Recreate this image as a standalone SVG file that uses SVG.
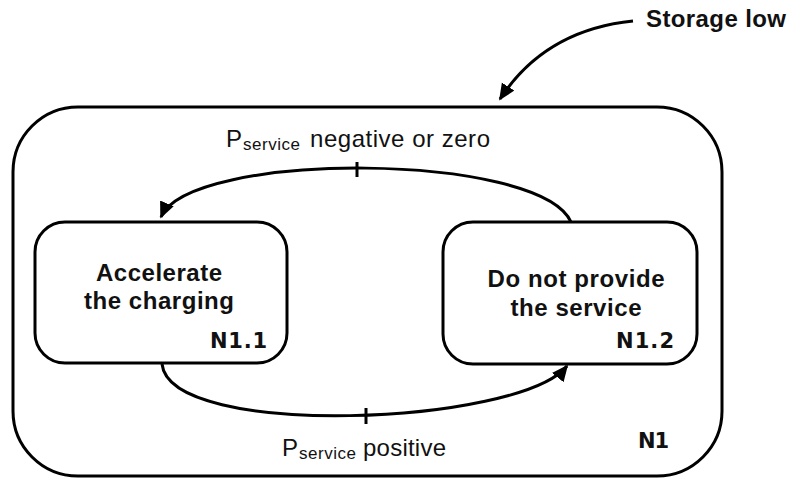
<svg xmlns="http://www.w3.org/2000/svg" width="791" height="479" viewBox="0 0 791 479">
<defs>
<marker id="ah" viewBox="0 0 10 10" refX="9" refY="5" markerWidth="5.5" markerHeight="5.5" orient="auto" markerUnits="strokeWidth">
<path d="M0,0.5 L10,5 L0,9.5 z" fill="#000"/>
</marker>
<style>
.box{fill:#fff;stroke:#000;stroke-width:3}
.edge{fill:none;stroke:#000;stroke-width:3}
.title{font-family:"Liberation Sans",Arial,sans-serif;font-weight:bold;font-size:24px;fill:#111}
.id{font-family:"DejaVu Sans",Verdana,sans-serif;font-weight:bold;font-size:21px;fill:#111}
.lab{font-family:"Liberation Sans",Arial,sans-serif;font-size:24px;fill:#111}
.sub{font-family:"Liberation Sans",Arial,sans-serif;font-size:17px;fill:#111}
</style>
</defs>
<rect width="791" height="479" fill="#fff"/>
<g id="N1">
<rect class="box" x="13" y="107" width="709" height="369" rx="65" ry="65"/>
<text class="id" x="669" y="448" text-anchor="end" textLength="31">N1</text>
</g>
<g id="N1.1">
<rect class="box" x="35" y="222" width="252" height="141" rx="30" ry="30"/>
<text class="title" x="159" y="281" text-anchor="middle" textLength="126">Accelerate</text>
<text class="title" x="159" y="309" text-anchor="middle" textLength="150">the charging</text>
<text class="id" x="267" y="348" text-anchor="end" textLength="57">N1.1</text>
</g>
<g id="N1.2">
<rect class="box" x="443" y="222" width="254" height="142" rx="30" ry="30"/>
<text class="title" x="576" y="287" text-anchor="middle" textLength="177">Do not provide</text>
<text class="title" x="576" y="316" text-anchor="middle" textLength="131">the service</text>
<text class="id" x="674" y="348" text-anchor="end" textLength="58">N1.2</text>
</g>
<g id="start">
<text class="title" x="646" y="27" textLength="140">Storage low</text>
</g>
<g id="connectors">
<path class="edge" d="M633,21 Q545,30 500,99" marker-end="url(#ah)"/>
<path class="edge" d="M571,222 C540,152 190,150 161,217" marker-end="url(#ah)"/>
<line class="edge" x1="357" y1="162" x2="357" y2="177"/>
<path class="edge" d="M162,364 C170,440 520,425 567,366" marker-end="url(#ah)"/>
<line class="edge" x1="366" y1="408" x2="366" y2="424"/>
<text class="lab" x="226" y="147">P</text>
<text class="sub" x="243" y="150" textLength="57">service</text>
<text class="lab" x="310" y="147" textLength="180">negative or zero</text>
<text class="lab" x="282" y="456">P</text>
<text class="sub" x="299" y="459" textLength="57">service</text>
<text class="lab" x="363" y="456" textLength="83">positive</text>
</g>
</svg>
